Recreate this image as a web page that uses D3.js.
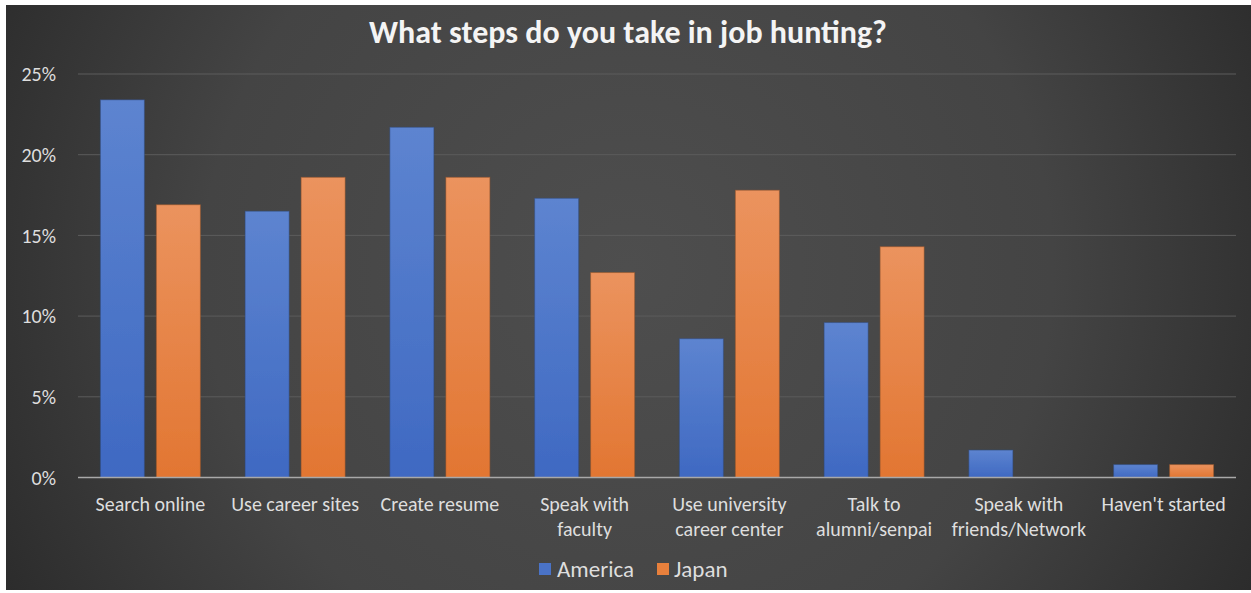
<!DOCTYPE html>
<html>
<head>
<meta charset="utf-8">
<script src="https://cdn.jsdelivr.net/npm/d3@7/dist/d3.min.js"></script>
<style>
  html, body { margin: 0; padding: 0; background: #ffffff; }
  svg { display: block; }
  text { font-family: Carlito, Calibri, Lato, "Open Sans", sans-serif; }
</style>
</head>
<body>
<svg id="chart" width="1251" height="593"></svg>
<script>
// Survey results: share of respondents taking each job-hunting step
const categories = [
  ["Search online"],
  ["Use career sites"],
  ["Create resume"],
  ["Speak with", "faculty"],
  ["Use university", "career center"],
  ["Talk to", "alumni/senpai"],
  ["Speak with", "friends/Network"],
  ["Haven't started"]
];
const seriesNames = ["America", "Japan"];
const america = [23.4, 16.5, 21.7, 17.3, 8.6, 9.6, 1.7, 0.8];
const japan   = [16.9, 18.6, 18.6, 12.7, 17.8, 14.3, 0, 0.8];
const yTicks  = [0, 5, 10, 15, 20, 25];
const titleText = "What steps do you take in job hunting?";

const seriesValues = [america, japan];
const colors = ["#4a73c7", "#e8803c"];
const lightTops = ["#5d84d0", "#eb935e"];
const darkBottoms = ["#3f69c2", "#e27632"];

const svg = d3.select("#chart");
const defs = svg.append("defs");

// background panel with a soft radial glow
const bg = defs.append("radialGradient")
  .attr("id", "bgGrad").attr("cx", "50%").attr("cy", "45%").attr("r", "62%")
  .attr("gradientTransform", "translate(0.5,0.45) scale(1,2.1) translate(-0.5,-0.45)");
bg.append("stop").attr("offset", "0%").attr("stop-color", "#4e4e4e");
bg.append("stop").attr("offset", "55%").attr("stop-color", "#444444");
bg.append("stop").attr("offset", "100%").attr("stop-color", "#262626");

seriesNames.forEach((s, i) => {
  const g = defs.append("linearGradient").attr("id", "bar" + i)
    .attr("x1", 0).attr("y1", 0).attr("x2", 0).attr("y2", 1);
  g.append("stop").attr("offset", "0%").attr("stop-color", lightTops[i]);
  g.append("stop").attr("offset", "100%").attr("stop-color", darkBottoms[i]);
});

const blur = defs.append("filter").attr("id", "soft")
  .attr("x", "-10%").attr("y", "-10%").attr("width", "120%").attr("height", "120%");
blur.append("feGaussianBlur").attr("stdDeviation", 0.5);

svg.append("rect")
  .attr("x", 6).attr("y", 5).attr("width", 1245).attr("height", 585)
  .attr("fill", "url(#bgGrad)");

const plot = { left: 78, right: 1236, top: 74, bottom: 477.5 };

const x = d3.scaleBand()
  .domain(d3.range(categories.length))
  .range([plot.left, plot.right])
  .paddingInner(0.309)
  .paddingOuter(0.1545);

const xs = d3.scaleBand()
  .domain(d3.range(seriesNames.length))
  .range([0, x.bandwidth()])
  .paddingInner(0.214)
  .paddingOuter(0);

const y = d3.scaleLinear().domain([0, 25]).range([plot.bottom, plot.top]);

// gridlines
svg.append("g")
  .selectAll("line")
  .data(yTicks.filter(t => t > 0))
  .join("line")
  .attr("x1", plot.left).attr("x2", plot.right)
  .attr("y1", d => y(d)).attr("y2", d => y(d))
  .attr("stroke", "#5c5c5c").attr("stroke-width", 1);

// y axis labels
const yAxis = d3.axisLeft(y).tickValues(yTicks).tickFormat(d => d + "%").tickSize(0).tickPadding(0);
const yg = svg.append("g").attr("transform", "translate(56,0)").call(yAxis);
yg.select(".domain").remove();
yg.selectAll("text")
  .attr("fill", "#dedede").attr("font-size", 20).attr("dy", "0.34em");

// bars
const groups = svg.append("g").selectAll("g")
  .data(categories.map((c, i) => i))
  .join("g")
  .attr("transform", i => `translate(${x(i)},0)`);

groups.selectAll("rect")
  .data(i => seriesValues.map((vals, s) => ({ s, v: vals[i] })))
  .join("rect")
  .filter(d => d.v > 0)
  .attr("x", d => xs(d.s))
  .attr("width", xs.bandwidth())
  .attr("y", d => y(d.v))
  .attr("height", d => y(0) - y(d.v))
  .attr("fill", d => `url(#bar${d.s})`)
  .attr("stroke", d => d3.color(colors[d.s]).darker(1.2))
  .attr("stroke-opacity", 0.5)
  .attr("stroke-width", 1)
  .attr("filter", "url(#soft)");

// baseline
svg.append("line")
  .attr("x1", plot.left).attr("x2", plot.right)
  .attr("y1", y(0)).attr("y2", y(0))
  .attr("stroke", "#a9a9a9").attr("stroke-width", 1.5);

// category labels
const xAxis = d3.axisBottom(x).tickSize(0).tickFormat("");
const xg = svg.append("g").attr("transform", `translate(0,${y(0)})`).call(xAxis);
xg.select(".domain").remove();
xg.selectAll(".tick").each(function(i) {
  const t = d3.select(this).append("text")
    .attr("fill", "#dedede").attr("font-size", 20).attr("text-anchor", "middle");
  categories[i].forEach((line, k) => {
    t.append("tspan").attr("x", 0).attr("y", 33 + k * 25).text(line);
  });
});

// title
svg.append("text")
  .attr("x", 628).attr("y", 43)
  .attr("text-anchor", "middle")
  .attr("fill", "#f4f4f4").attr("font-size", 32).attr("font-weight", "bold")
  .text(titleText);

// legend
const legend = svg.append("g").attr("transform", "translate(0,569)");
const legendItems = [{ x: 539, tx: 557 }, { x: 657, tx: 674 }];
seriesNames.forEach((name, i) => {
  legend.append("rect")
    .attr("x", legendItems[i].x).attr("y", -6)
    .attr("width", 12).attr("height", 12)
    .attr("fill", colors[i]);
  legend.append("text")
    .attr("x", legendItems[i].tx).attr("y", 0).attr("dy", "0.35em")
    .attr("fill", "#dedede").attr("font-size", 23)
    .text(name);
});
</script>
</body>
</html>
